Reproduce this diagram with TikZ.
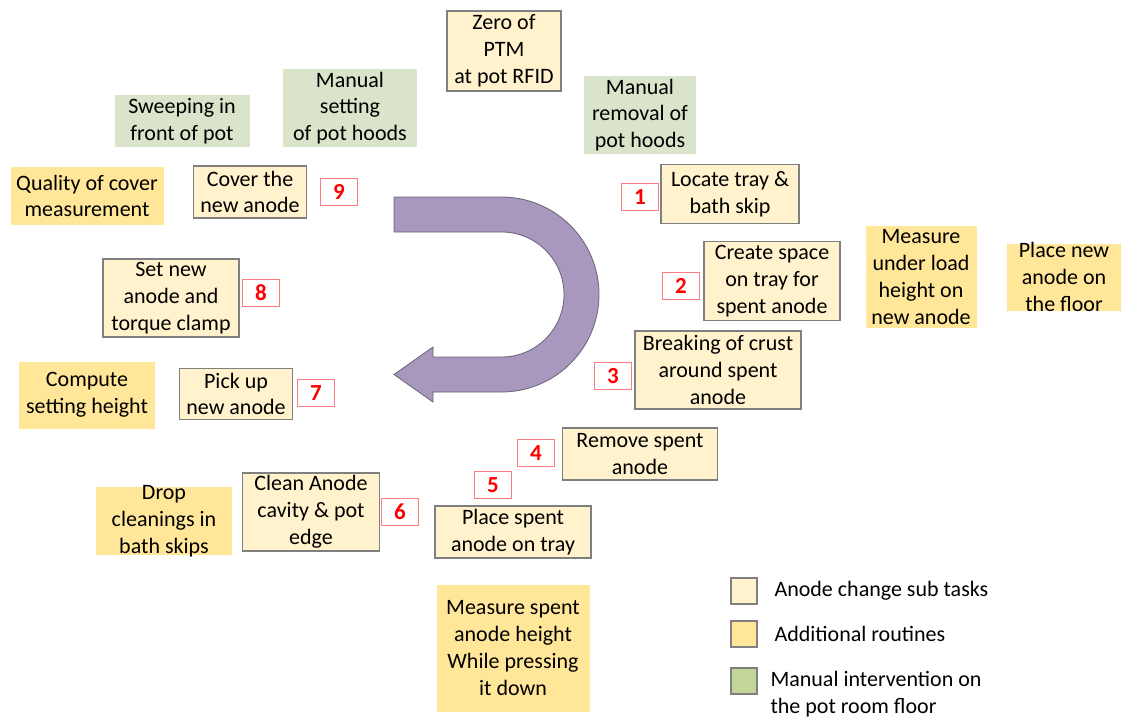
\documentclass[tikz,border=0pt]{standalone}
\usepackage{fontspec}
\setmainfont{Carlito}

\definecolor{taskfill}{HTML}{FFF2CC}
\definecolor{taskline}{HTML}{7F7F7F}
\definecolor{extrafill}{HTML}{FFE699}
\definecolor{manualfill}{HTML}{D9E4CA}
\definecolor{keygreen}{HTML}{C4D79B}
\definecolor{numred}{HTML}{FF0000}
\definecolor{numline}{HTML}{FF7C80}
\definecolor{arrowfill}{HTML}{A898BD}
\definecolor{arrowline}{HTML}{6B6478}

\tikzset{
  task/.style={draw=taskline, line width=1.2pt, fill=taskfill, align=center, inner sep=1pt},
  extra/.style={fill=extrafill, align=center, inner sep=1pt},
  manual/.style={fill=manualfill, align=center, inner sep=1pt},
  num/.style={draw=numline, line width=1pt, fill=white, text=numred,
    font=\fontsize{23}{24}\selectfont\bfseries, minimum width=37pt, minimum height=27pt, inner sep=0pt},
  keybox/.style={draw=taskline, line width=1.2pt, minimum size=26pt, inner sep=0pt}
}

\begin{document}
\begin{tikzpicture}[x=1pt, y=-1pt, font=\fontsize{22}{26.8}\selectfont]
		\useasboundingbox (0,0) rectangle (1121,718);
		
		% U-turn arrow in the middle
		\filldraw[fill=arrowfill, draw=arrowline, line width=0.8pt]
			(394,197) -- (501.5,197) arc[start angle=90, end angle=-90, radius=97.5pt]
			-- (433,392) -- (433,402) -- (394,374.5) -- (433,347) -- (433,357)
			-- (501.5,357) arc[start angle=-90, end angle=90, radius=62.5pt]
			-- (394,232) -- cycle;
		
		% Anode change sub tasks
		\node[task, minimum width=114pt, minimum height=80pt] (zero) at (504,51) {Zero of\\PTM\\at pot RFID};
		\node[task, minimum width=138pt, minimum height=59pt] (locate) at (730,194) {Locate tray \&\\bath skip};
		\node[task, minimum width=136pt, minimum height=79pt] (space) at (772,281) {Create space\\on tray for\\spent anode};
		\node[task, minimum width=166pt, minimum height=78pt] (crust) at (718,370) {Breaking of crust\\around spent\\anode};
		\node[task, minimum width=155pt, minimum height=52pt] (remove) at (640,454) {Remove spent\\anode};
		\node[task, minimum width=156pt, minimum height=52pt] (place) at (513,532) {Place spent\\anode on tray};
		\node[task, minimum width=137pt, minimum height=78pt] (clean) at (311,512) {Clean Anode\\cavity \& pot\\edge};
		\node[task, minimum width=113pt, minimum height=51pt] (pick) at (236,394) {Pick up\\new anode};
		\node[task, minimum width=136pt, minimum height=78pt] (setnew) at (171,298) {Set new\\anode and\\torque clamp};
		\node[task, minimum width=113pt, minimum height=52pt] (cover) at (250,192) {Cover the\\new anode};
		
		% Step numbers
		\foreach \n/\x/\y in {1/640/197, 2/681/286, 3/613/376, 4/536/453, 5/493/485,
			6/400/512, 7/316/393, 8/261/293, 9/339/192}{
			\node[num] (n\n) at (\x,\y) {\n};
		}
		
		% Additional routines
		\node[extra, minimum width=153pt, minimum height=58pt] (quality) at (87,196) {Quality of cover\\measurement};
		\node[extra, minimum width=111pt, minimum height=102pt] (underload) at (921,277) {Measure\\under load\\height on\\new anode};
		\node[extra, minimum width=114pt, minimum height=67pt, inner ysep=-5pt] (floor) at (1064,277) {Place new\\anode on\\the floor};
		\node[extra, minimum width=136pt, minimum height=67pt] (compute) at (87,395) {Compute\\setting height};
		\node[extra, minimum width=136pt, minimum height=68pt, inner ysep=-5pt] (drop) at (164,521) {Drop\\cleanings in\\bath skips};
		\node[extra, minimum width=153pt, minimum height=127pt] (spentheight) at (513,648) {Measure spent\\anode height\\While pressing\\it down};
		
		% Manual interventions on the floor
		\node[manual, minimum width=135pt, minimum height=52pt] (sweep) at (182,121) {Sweeping in\\front of pot};
		\node[manual, minimum width=134pt, minimum height=78pt] (hoodset) at (350,108) {Manual\\setting\\of pot hoods};
		\node[manual, minimum width=112pt, minimum height=78pt] (hoodoff) at (640,115) {Manual\\removal of\\pot hoods};
		
		% Legend
		\node[keybox, fill=taskfill] (keytask) at (744,591) {};
		\node[keybox, fill=extrafill] (keyextra) at (744,634) {};
		\node[keybox, fill=keygreen] (keymanual) at (744,681) {};
		\node[anchor=west] (keytasktext) at (771,591) {Anode change sub tasks};
		\node[anchor=west] (keyextratext) at (771,634) {Additional routines};
		\node[anchor=west, align=left] (keymanualtext) at (767,694) {Manual intervention on\\the pot room floor};
		
	\end{tikzpicture}
\end{document}
